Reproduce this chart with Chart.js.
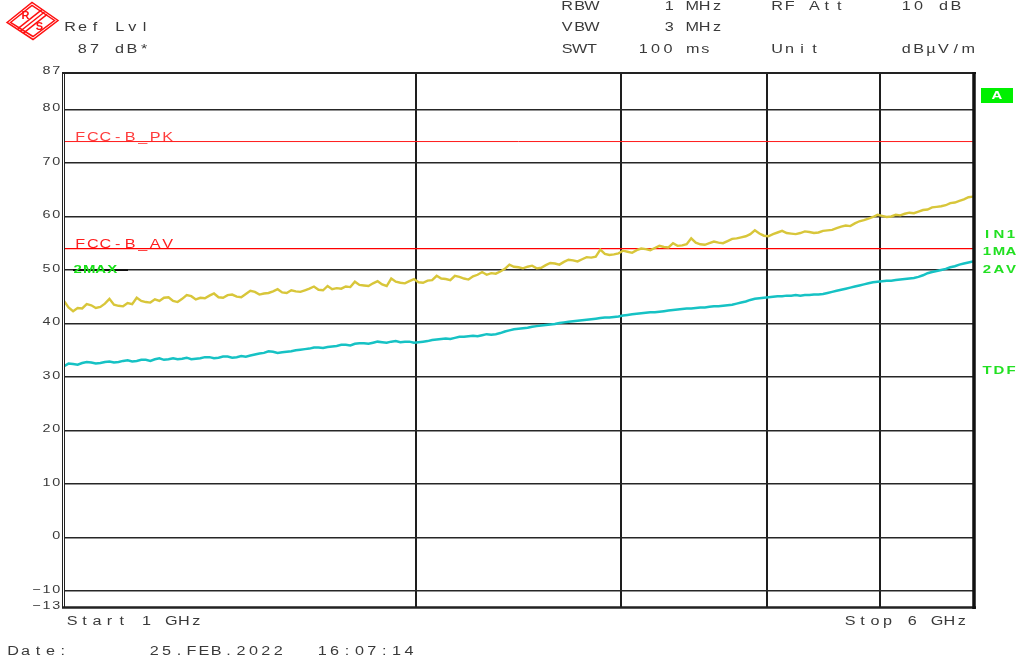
<!DOCTYPE html>
<html>
<head>
<meta charset="utf-8">
<title>Spectrum 1–6 GHz</title>
<script src="https://cdn.jsdelivr.net/npm/chart.js@4"></script>
<style>
  html, body { margin: 0; padding: 0; background: #ffffff; }
  #wrap { width: 1016px; height: 661px; position: relative; }
</style>
</head>
<body>
<div id="wrap"><canvas id="c" width="1016" height="661"></canvas></div>
<script>
// Sweep: 1 GHz to 6 GHz, 201 points
const startGHz = 1;
const stopGHz = 6;
const sweepPoints = 201;

// Trace 1: max peak (dBµV/m)
const maxPeak = [
  44.2,43.0,42.3,42.9,42.8,43.6,43.4,42.9,43.1,43.7,44.6,43.5,43.3,43.2,43.8,43.6,44.8,44.2,44.0,43.9,
  44.5,44.2,44.8,44.9,44.2,44.0,44.6,45.3,45.1,44.5,44.8,44.7,45.2,45.6,44.9,44.8,45.3,45.4,45.0,44.9,
  45.5,46.1,45.9,45.4,45.6,45.7,46.0,46.4,45.8,45.7,46.2,46.0,45.9,46.2,46.5,46.9,46.3,46.2,47.0,46.4,
  46.6,46.5,46.9,46.8,47.8,47.2,47.1,47.0,47.5,47.9,47.3,47.0,48.4,47.8,47.6,47.5,47.9,48.3,47.7,47.6,
  48.0,48.1,48.9,48.4,48.3,48.1,48.9,48.7,48.4,48.2,48.8,49.1,49.6,49.1,49.4,49.3,49.7,50.2,51.0,50.6,
  50.5,50.3,50.6,50.8,50.3,50.4,50.9,51.3,51.2,51.0,51.5,51.9,51.8,51.6,52.0,52.4,52.3,52.5,53.8,53.0,
  52.8,52.9,53.1,53.6,53.4,53.2,53.7,54.0,53.9,53.7,54.1,54.5,54.3,54.2,55.0,54.5,54.6,54.8,55.9,55.1,
  54.8,54.7,55.0,55.3,55.1,55.0,55.4,55.8,55.9,56.1,56.3,56.7,57.4,56.8,56.4,56.3,56.7,57.0,57.3,56.9,
  56.8,56.7,56.9,57.2,57.1,56.9,57.0,57.3,57.4,57.5,57.8,58.1,58.3,58.2,58.7,59.1,59.3,59.6,59.9,60.3,
  60.1,59.9,60.0,60.3,60.2,60.5,60.7,60.6,60.9,61.2,61.3,61.7,61.8,61.9,62.1,62.5,62.6,62.9,63.2,63.6,
  63.7
];

// Trace 2: average (dBµV/m)
const average = [
  32.0,32.5,32.4,32.3,32.6,32.8,32.7,32.5,32.6,32.8,32.9,32.7,32.8,33.0,33.1,32.9,33.0,33.2,33.2,33.0,
  33.3,33.5,33.2,33.3,33.5,33.3,33.4,33.6,33.3,33.4,33.5,33.7,33.7,33.5,33.6,33.8,33.8,33.6,33.7,33.9,
  33.8,34.0,34.2,34.4,34.5,34.8,34.7,34.5,34.6,34.7,34.8,35.0,35.1,35.2,35.3,35.5,35.5,35.4,35.6,35.7,
  35.8,36.0,36.0,35.9,36.2,36.3,36.3,36.2,36.4,36.6,36.5,36.4,36.6,36.7,36.5,36.6,36.6,36.4,36.5,36.6,
  36.7,36.9,37.0,37.1,37.2,37.1,37.3,37.5,37.5,37.6,37.7,37.6,37.8,38.0,37.9,38.0,38.2,38.5,38.7,38.9,
  39.0,39.1,39.2,39.4,39.5,39.6,39.7,39.8,39.9,40.1,40.2,40.3,40.4,40.5,40.6,40.7,40.8,40.9,41.0,41.1,
  41.1,41.2,41.3,41.5,41.6,41.7,41.8,41.9,42.0,42.1,42.1,42.2,42.3,42.4,42.5,42.6,42.7,42.8,42.8,42.9,
  43.0,43.0,43.1,43.2,43.2,43.3,43.4,43.5,43.7,43.9,44.1,44.4,44.6,44.7,44.8,44.9,45.0,45.1,45.1,45.2,
  45.2,45.3,45.2,45.3,45.3,45.4,45.4,45.5,45.7,45.9,46.1,46.3,46.5,46.7,46.9,47.1,47.3,47.5,47.7,47.8,
  47.9,48.0,48.0,48.1,48.2,48.3,48.4,48.5,48.7,49.0,49.4,49.6,49.8,50.0,50.2,50.5,50.7,51.0,51.2,51.4,
  51.6
];

// Limit lines
const limitFreq = [1, 6];
const limitPK = [74, 74];
const limitAV = [54, 54];
const displayLine = 50;

// Axis layout
const refLevel = 87;
const bottomLevel = -13;
const levelTicks = [87, 80, 70, 60, 50, 40, 30, 20, 10, 0, -10, -13];
const gridLevels = [80, 70, 60, 50, 40, 30, 20, 10, 0, -10];
const gridFreqs = [2.936, 4.064, 4.867, 5.489];

const sweepFreq = i => startGHz + (stopGHz - startGHz) * i / (sweepPoints - 1);
const traceXY = ys => ys.map((y, i) => ({ x: sweepFreq(i), y: y }));
const toXY = (xs, ys) => xs.map((x, i) => ({ x: x, y: ys[i] }));

// draws a string in fixed-pitch cells, glyphs widened horizontally
function pitchText(ctx, str, left, yc, pitch, sx, color, font) {
  ctx.save();
  ctx.fillStyle = color;
  ctx.font = font;
  ctx.textAlign = 'center';
  ctx.textBaseline = 'middle';
  for (let i = 0; i < str.length; i++) {
    const ch = str[i];
    if (ch === ' ') continue;
    ctx.save();
    ctx.translate(left + pitch * (i + 0.5), yc);
    ctx.scale(sx, 1);
    ctx.fillText(ch, 0, 0);
    ctx.restore();
  }
  ctx.restore();
}

const TXT = '#3a3a3a';
const FONT = '12px "Liberation Sans", Arial, sans-serif';
const TICKFONT = '11.5px "Liberation Sans", Arial, sans-serif';
const BOLD = 'bold 11.5px "Liberation Sans", Arial, sans-serif';
const SX = 1.35;

const decorPlugin = {
  id: 'decor',
  afterDatasetsDraw(chart) {
    const ctx = chart.ctx;
    const a = chart.chartArea;
    const ys = chart.scales.y;

    // frame
    ctx.save();
    ctx.strokeStyle = '#222';
    ctx.lineWidth = 1;
    ctx.beginPath(); ctx.moveTo(62.5, a.top); ctx.lineTo(62.5, a.bottom + 1); ctx.stroke();
    ctx.beginPath(); ctx.moveTo(64.5, a.top); ctx.lineTo(64.5, a.bottom + 1); ctx.stroke();
    ctx.lineWidth = 2;
    ctx.beginPath(); ctx.moveTo(62, a.top + 1); ctx.lineTo(a.right + 3, a.top + 1); ctx.stroke();
    ctx.lineWidth = 2.5;
    ctx.beginPath(); ctx.moveTo(62, a.bottom + 0.5); ctx.lineTo(a.right + 3, a.bottom + 0.5); ctx.stroke();
    ctx.lineWidth = 3.5;
    ctx.strokeStyle = '#111';
    ctx.beginPath(); ctx.moveTo(a.right + 1, a.top); ctx.lineTo(a.right + 1, a.bottom + 2); ctx.stroke();
    ctx.restore();

    // level labels
    levelTicks.forEach(v => {
      const s = v < 0 ? '\u2212' + Math.abs(v) : String(v);
      const pitch = 9.7;
      pitchText(ctx, s, 61 - s.length * pitch, ys.getPixelForValue(v) - 1.5, pitch, 1.25, TXT, TICKFONT);
    });

    // limit line labels
    pitchText(ctx, 'FCC-B_PK', 74, ys.getPixelForValue(74) - 4, 12.5, SX, '#ff3c3c', FONT);
    pitchText(ctx, 'FCC-B_AV', 74, ys.getPixelForValue(54) - 4, 12.5, SX, '#ff1e1e', FONT);

    // display line marker
    const yd = ys.getPixelForValue(displayLine);
    ctx.save();
    ctx.strokeStyle = '#111';
    ctx.lineWidth = 2;
    ctx.beginPath(); ctx.moveTo(73, yd); ctx.lineTo(128, yd); ctx.stroke();
    ctx.restore();
    pitchText(ctx, '2MAX', 72, yd, 11.5, 1.3, '#18e018', BOLD);

    // header
    pitchText(ctx, 'Ref Lvl', 64, 28, 12.4, SX, TXT, FONT);
    pitchText(ctx, '87 dB*', 76, 49.5, 12.4, SX, TXT, FONT);
    pitchText(ctx, 'RBW', 561, 7, 12.4, SX, TXT, FONT);
    pitchText(ctx, '1', 663, 7, 12.4, SX, TXT, FONT);
    pitchText(ctx, 'MHz', 686, 7, 12.4, SX, TXT, FONT);
    pitchText(ctx, 'RF Att', 771, 7, 12.4, SX, TXT, FONT);
    pitchText(ctx, '10 dB', 900, 7, 12.4, SX, TXT, FONT);
    pitchText(ctx, 'VBW', 561, 28, 12.4, SX, TXT, FONT);
    pitchText(ctx, '3', 663, 28, 12.4, SX, TXT, FONT);
    pitchText(ctx, 'MHz', 686, 28, 12.4, SX, TXT, FONT);
    pitchText(ctx, 'SWT', 561, 50, 12.4, SX, TXT, FONT);
    pitchText(ctx, '100 ms', 637, 50, 12.4, SX, TXT, FONT);
    pitchText(ctx, 'Unit', 771, 50, 12.4, SX, TXT, FONT);
    pitchText(ctx, 'dB\u00b5V/m', 900, 50, 12.4, SX, TXT, FONT);

    // footer
    pitchText(ctx, 'Start 1 GHz', 66, 622, 12.4, SX, TXT, FONT);
    pitchText(ctx, 'Stop 6 GHz', 844, 622, 12.4, SX, TXT, FONT);
    pitchText(ctx, 'Date:', 7, 652, 12.4, SX, TXT, FONT);
    pitchText(ctx, '25.FEB.2022', 148, 652, 12.4, SX, TXT, FONT);
    pitchText(ctx, '16:07:14', 316, 652, 12.4, SX, TXT, FONT);

    // right-hand status column
    ctx.save();
    ctx.fillStyle = '#00f000';
    ctx.fillRect(981, 88, 32, 15);
    ctx.restore();
    pitchText(ctx, 'A', 991, 95.5, 12, 1.3, '#ffffff', BOLD);
    pitchText(ctx, 'IN1', 981, 235, 12, 1.3, '#22e022', BOLD);
    pitchText(ctx, '1MA', 981, 252, 12, 1.3, '#22e022', BOLD);
    pitchText(ctx, '2AV', 981, 270, 12, 1.3, '#22e022', BOLD);
    pitchText(ctx, 'TDF', 981, 371, 12, 1.3, '#22e022', BOLD);

    // logo
    drawLogo(ctx, 32.5, 21);
  }
};

function drawLogo(ctx, cx, cy) {
  ctx.save();
  ctx.strokeStyle = '#ff1010';
  ctx.fillStyle = '#ff1010';
  ctx.lineWidth = 1.5;
  const dia = (hw, hh) => {
    ctx.beginPath();
    ctx.moveTo(cx - hw, cy + 1.5);
    ctx.lineTo(cx - 0.5, cy - hh);
    ctx.lineTo(cx + hw, cy - 0.5);
    ctx.lineTo(cx + 0.5, cy + hh);
    ctx.closePath();
    ctx.stroke();
  };
  dia(25.5, 18.5);
  dia(22, 15.5);
  // diagonal band between the letters
  for (let k = -1; k <= 1; k++) {
    const o = k * 2.6;
    ctx.beginPath();
    ctx.moveTo(cx - 12 + o, cy + 10 + o * 0.9);
    ctx.lineTo(cx + 12 + o, cy - 9 + o * 0.9);
    ctx.stroke();
  }
  ctx.font = 'bold 11px "Liberation Sans", Arial, sans-serif';
  ctx.textAlign = 'center';
  ctx.textBaseline = 'middle';
  ctx.fillText('R', cx - 7, cy - 5);
  ctx.fillText('S', cx + 7, cy + 6);
  ctx.restore();
}

new Chart(document.getElementById('c'), {
  type: 'line',
  data: {
    datasets: [
      { data: toXY(limitFreq, limitPK), borderColor: '#ff1a1a', borderWidth: 1, order: 3 },
      { data: toXY(limitFreq, limitAV), borderColor: '#ff0000', borderWidth: 1.2, order: 3 },
      { data: traceXY(average), borderColor: '#16c2c4', borderWidth: 2.5, order: 2 },
      { data: traceXY(maxPeak), borderColor: '#d8c63a', borderWidth: 2.4, order: 1 }
    ]
  },
  options: {
    responsive: false,
    animation: false,
    events: [],
    layout: { padding: { left: 64, right: 43, top: 72, bottom: 54 } },
    elements: { point: { radius: 0 }, line: { tension: 0 } },
    plugins: { legend: { display: false }, tooltip: { enabled: false } },
    scales: {
      x: {
        type: 'linear', min: startGHz, max: stopGHz,
        afterBuildTicks: s => { s.ticks = gridFreqs.map(v => ({ value: v })); },
        ticks: { display: false },
        border: { display: false },
        grid: { color: '#1e1e1e', lineWidth: 2, drawTicks: false }
      },
      y: {
        type: 'linear', min: bottomLevel, max: refLevel,
        afterBuildTicks: s => { s.ticks = gridLevels.map(v => ({ value: v })); },
        ticks: { display: false },
        border: { display: false },
        grid: { color: '#262626', lineWidth: 1.5, drawTicks: false }
      }
    }
  },
  plugins: [decorPlugin]
});
</script>
</body>
</html>
